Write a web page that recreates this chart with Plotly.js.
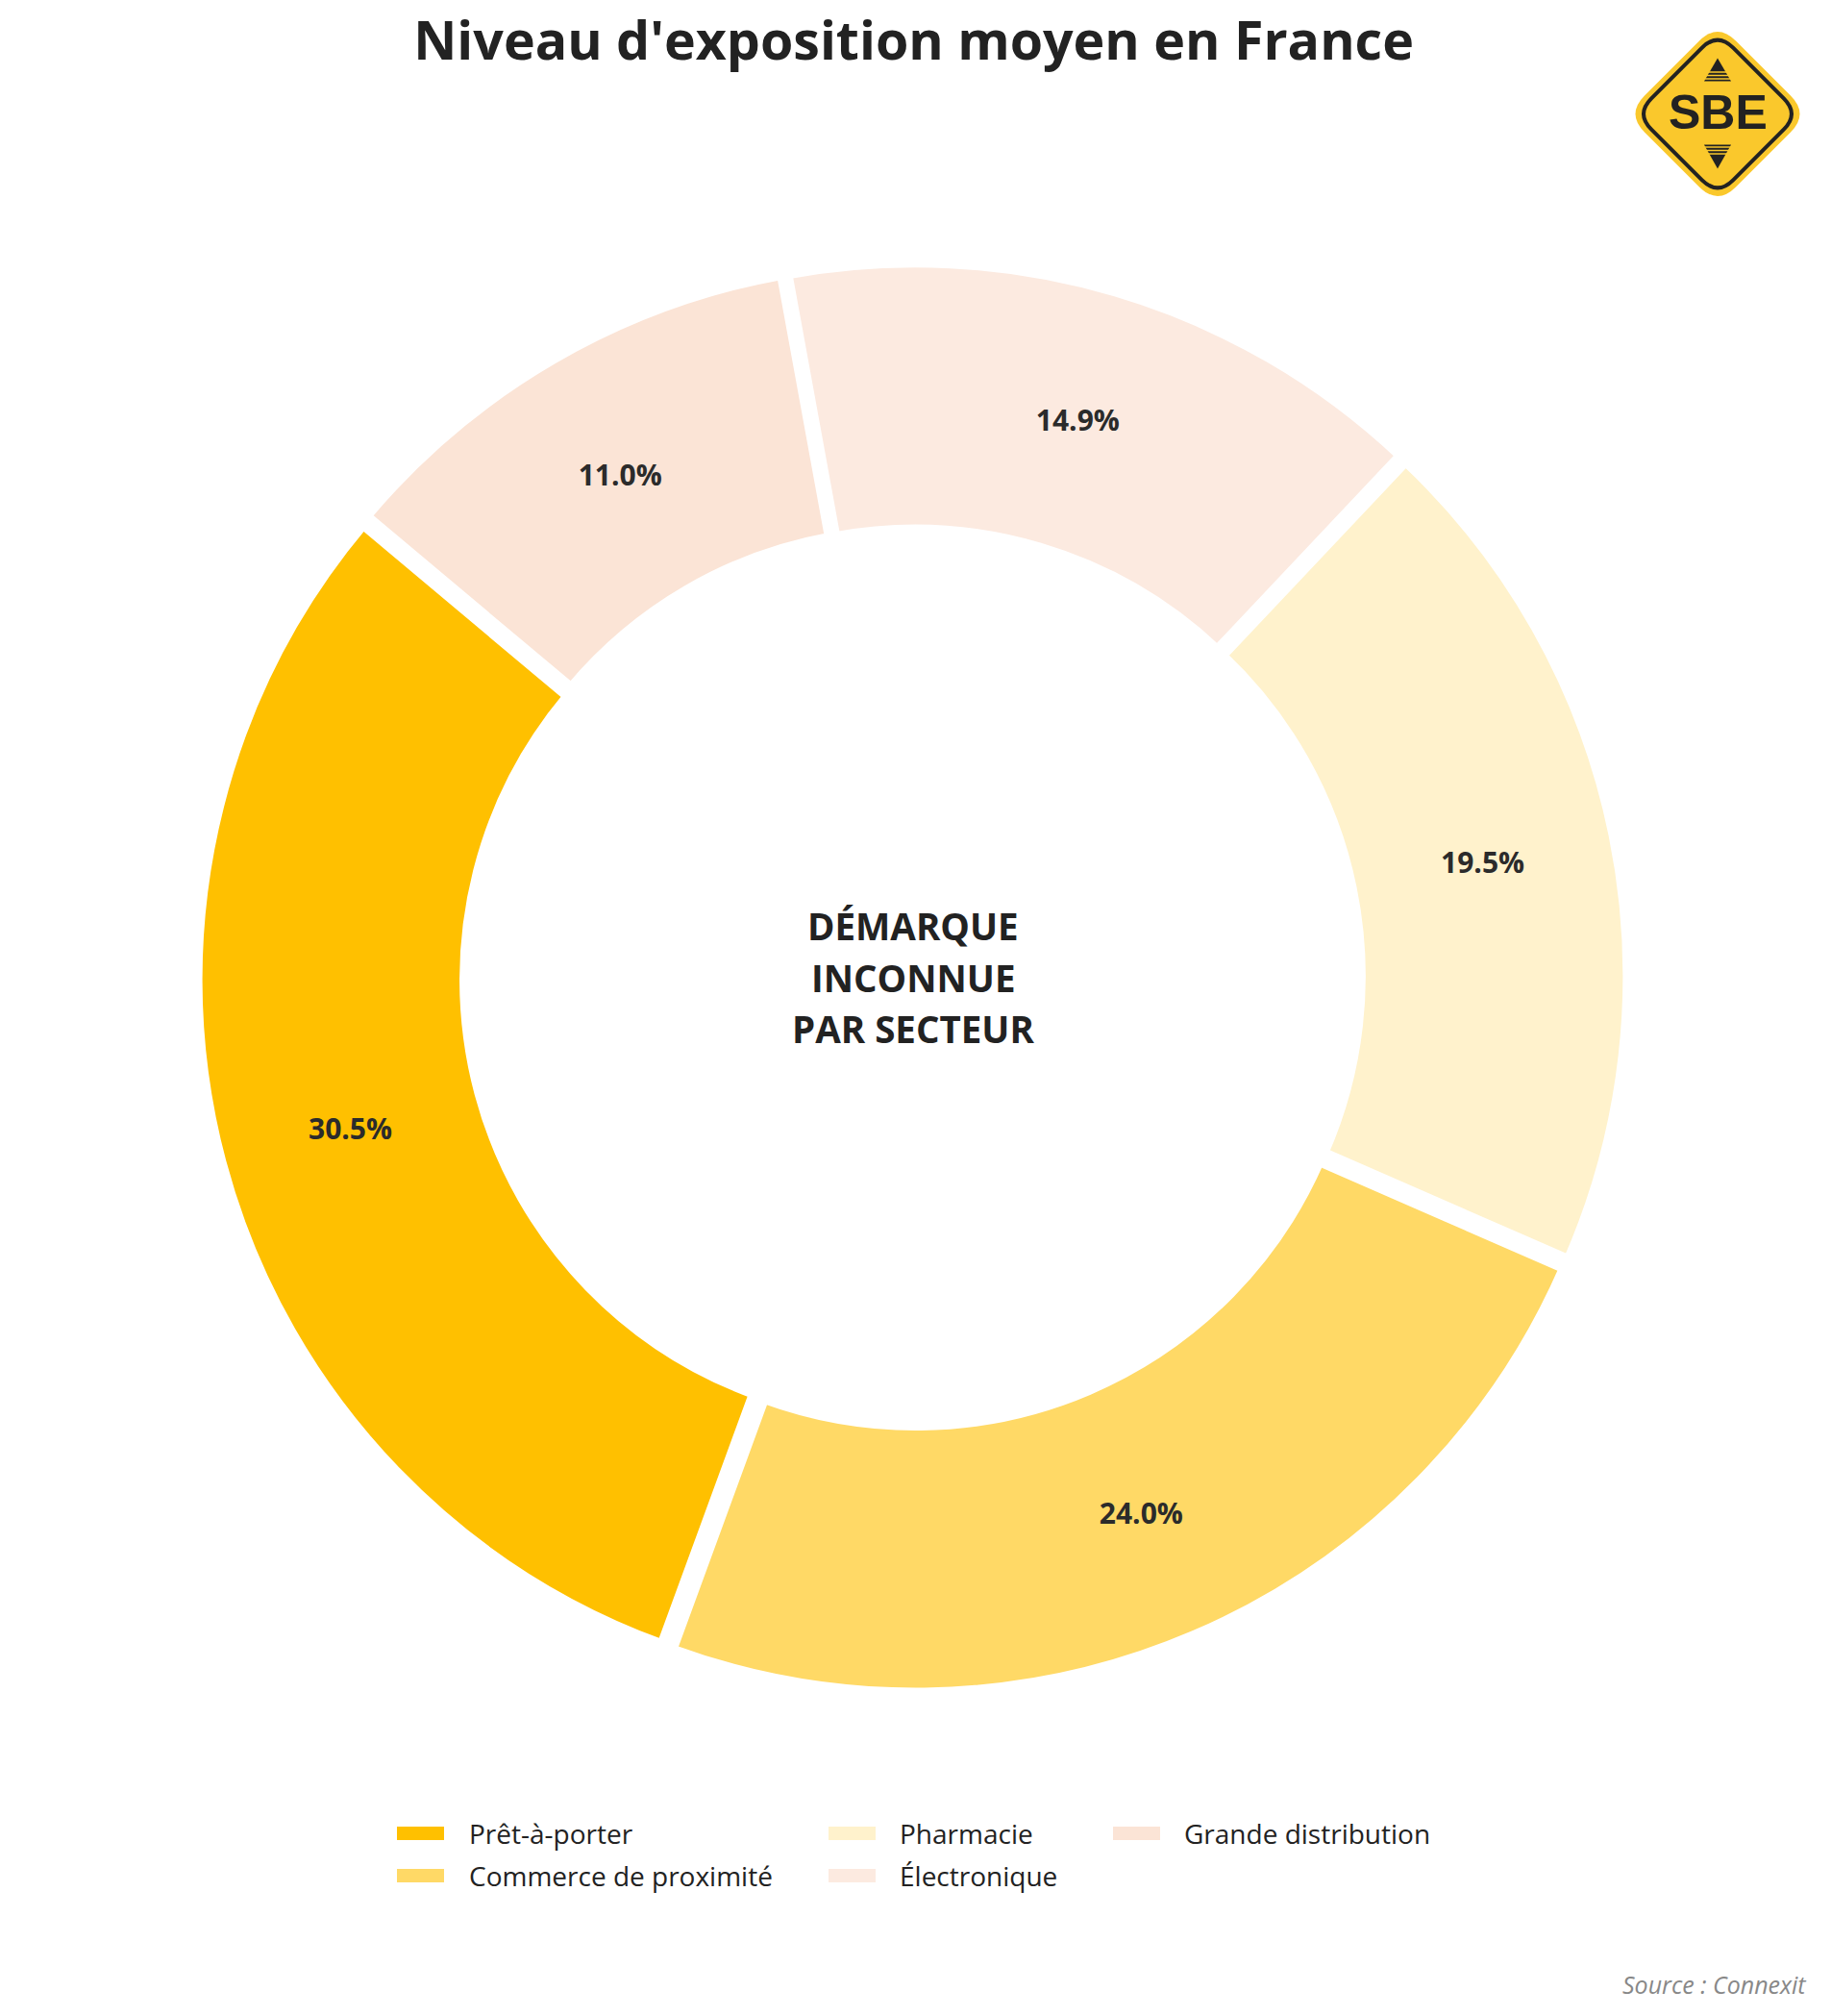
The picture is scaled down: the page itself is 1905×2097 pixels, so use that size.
<!DOCTYPE html>
<html>
<head>
<meta charset="utf-8">
<script src="https://cdn.plot.ly/plotly-3.0.1.min.js"></script>
<style>
  html, body { margin: 0; padding: 0; background: #ffffff; }
  #chart { width: 1905px; height: 2097px; }
</style>
</head>
<body>
<div id="chart"></div>
<script>
// ---- Data ----
const sectors = ['Prêt-à-porter', 'Commerce de proximité', 'Pharmacie', 'Électronique', 'Grande distribution'];
const shares = [30.5, 24.0, 19.5, 14.9, 11.0];
const sectorColors = ['#FFC000', '#FFD966', '#FFF2CC', '#FCEAE0', '#FBE4D6'];
const titleText = "Niveau d'exposition moyen en France";
const centerLines = ['DÉMARQUE', 'INCONNUE', 'PAR SECTEUR'];
const sourceText = 'Source : Connexit';
const logoText = 'SBE';

// ---- Layout helpers (pixel -> paper, margins are zero) ----
const W = 1905, H = 2097;
const px = x => x / W;
const py = y => 1 - y / H;
const FONT = 'Open Sans, Noto Sans, DejaVu Sans, sans-serif';
const DARK = '#222222';

const trace = {
  type: 'pie',
  labels: sectors,
  values: shares,
  sort: false,
  direction: 'counterclockwise',
  rotation: -159.9,
  hole: 0.623,
  pull: sectors.map(() => 0.011),
  marker: { colors: sectorColors, line: { color: '#ffffff', width: 10 } },
  texttemplate: '%{value:.1f}%',
  textposition: 'inside',
  insidetextorientation: 'horizontal',
  textfont: { family: FONT, size: 30, color: '#2b2b2b', weight: 700 },
  hoverinfo: 'label+percent',
  showlegend: false,
  domain: { x: [0.10777, 0.88898], y: [0.160181, 0.869861] }
};

const annotations = [];
const shapes = [];

// Centre text
centerLines.forEach((t, i) => {
  annotations.push({
    text: t, xref: 'paper', yref: 'paper',
    x: px(950), y: py(963 + i * 53.5), xanchor: 'center', yanchor: 'middle',
    showarrow: false,
    font: { family: FONT, size: 38.5, color: DARK, weight: 700 }
  });
});

// Legend (3 columns, filled column by column)
const legCols = [{ sym: 413, txt: 486 }, { sym: 862, txt: 934 }, { sym: 1158, txt: 1230 }];
const legRows = [1907, 1951];
sectors.forEach((lab, i) => {
  const c = legCols[Math.floor(i / 2)];
  const yr = legRows[i % 2];
  shapes.push({
    type: 'rect', xref: 'paper', yref: 'paper',
    x0: px(c.sym), x1: px(c.sym + 49), y0: py(yr - 7), y1: py(yr + 7),
    fillcolor: sectorColors[i], line: { width: 0 }
  });
  annotations.push({
    text: lab, xref: 'paper', yref: 'paper',
    x: px(c.txt), y: py(yr), xanchor: 'left', yanchor: 'middle',
    showarrow: false,
    font: { family: FONT, size: 28, color: DARK }
  });
});

// Source
annotations.push({
  text: sourceText, xref: 'paper', yref: 'paper',
  x: px(1881), y: py(2064), xanchor: 'right', yanchor: 'middle', showarrow: false,
  font: { family: FONT, size: 25, color: '#888888', style: 'italic' }
});

// ---- Logo (rounded diamond sign) ----
function roundedDiamond(a, f) {
  const v = [[0, a], [a, 0], [0, -a], [-a, 0]];
  let d = '';
  for (let i = 0; i < 4; i++) {
    const p = v[(i + 3) % 4], c = v[i], n = v[(i + 1) % 4];
    const A = [c[0] + f * (p[0] - c[0]), c[1] + f * (p[1] - c[1])];
    const B = [c[0] + f * (n[0] - c[0]), c[1] + f * (n[1] - c[1])];
    d += (i === 0 ? 'M' : 'L') + A[0].toFixed(2) + ',' + A[1].toFixed(2) +
         ' Q' + c[0] + ',' + c[1] + ' ' + B[0].toFixed(2) + ',' + B[1].toFixed(2) + ' ';
  }
  return d + 'Z';
}
const LOGO_X = px(1787), LOGO_Y = py(118.5);
const YEL = '#FAC82C';
function logoShape(path, fill, line) {
  shapes.push({
    type: 'path', xref: 'paper', yref: 'paper',
    xsizemode: 'pixel', ysizemode: 'pixel', xanchor: LOGO_X, yanchor: LOGO_Y,
    path: path, fillcolor: fill, line: line
  });
}
logoShape(roundedDiamond(95, 0.2), YEL, { width: 0 });
logoShape(roundedDiamond(85, 0.19), 'rgba(0,0,0,0)', { color: DARK, width: 4 });
// up triangle
logoShape('M0,58 L14,34 L-14,34 Z', DARK, { width: 0 });
// down triangle
logoShape('M0,-57 L14,-32 L-14,-32 Z', DARK, { width: 0 });
// stripes
[36.5, 40, 43.5].forEach(o => logoShape('M-18,' + o + ' L18,' + o, 'rgba(0,0,0,0)', { color: YEL, width: 1.6 }));
[-34.5, -38, -41.5].forEach(o => logoShape('M-18,' + o + ' L18,' + o, 'rgba(0,0,0,0)', { color: YEL, width: 1.6 }));
annotations.push({
  text: logoText, xref: 'paper', yref: 'paper',
  x: LOGO_X, y: py(117), xanchor: 'center', yanchor: 'middle', showarrow: false,
  font: { family: 'Liberation Sans, Arial, sans-serif', size: 50, color: DARK, weight: 700 }
});

const layout = {
  width: W, height: H,
  margin: { l: 0, r: 0, t: 0, b: 0 },
  paper_bgcolor: '#ffffff',
  plot_bgcolor: '#ffffff',
  showlegend: false,
  title: {
    text: titleText,
    x: 0.499, xanchor: 'center', xref: 'paper',
    y: py(43), yanchor: 'middle', yref: 'container',
    font: { family: FONT, size: 55.5, color: DARK, weight: 700 }
  },
  annotations: annotations,
  shapes: shapes
};

Plotly.newPlot('chart', [trace], layout, { staticPlot: true, displayModeBar: false });
</script>
</body>
</html>
